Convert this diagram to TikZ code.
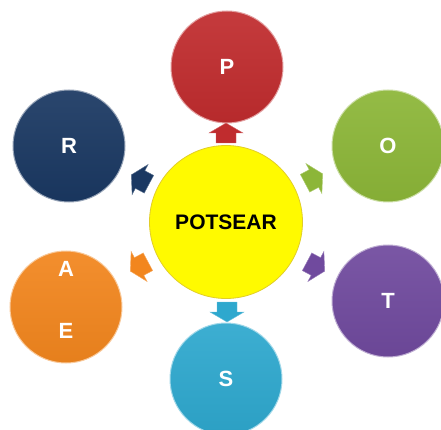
\documentclass[tikz,border=0pt]{standalone}
\usepackage{fontspec}
\setmainfont{Liberation Sans}
\usetikzlibrary{positioning}

\definecolor{hubYellow}{RGB}{255,250,0}
\definecolor{hubRim}{RGB}{225,205,40}
\definecolor{pRed}{RGB}{192,44,46}
\definecolor{oGreen}{RGB}{140,182,56}
\definecolor{tPurple}{RGB}{112,74,158}
\definecolor{sBlue}{RGB}{46,168,206}
\definecolor{aOrange}{RGB}{242,134,30}
\definecolor{rNavy}{RGB}{26,56,98}

\begin{document}
\begin{tikzpicture}[x=1pt,y=-1pt]

\tikzset{
  hub/.style={circle, minimum size=153pt, inner sep=0pt,
              fill=hubYellow, draw=hubRim, line width=0.8pt,
              font=\fontsize{21}{21}\selectfont\bfseries},
  bubble/.style={circle, minimum size=112pt, inner sep=0pt,
              top color=#1!93!white, bottom color=#1!95!black,
              draw=#1!45!white, line width=1pt, text=white,
              font=\fontsize{22}{22}\selectfont\bfseries},
  letter/.style={text=white, font=\fontsize{22}{22}\selectfont\bfseries},
  arrowbody/.style={fill=#1, draw=#1!70!white, line width=0.4pt}
}

\newcommand{\blockarrow}[4]{
  \begin{scope}[shift={(#1,#2)}, rotate=#3]
    \draw[arrowbody=#4] (-9,-10) -- (1,-10) -- (1,-17) -- (11,0)
                        -- (1,17) -- (1,10) -- (-9,10) -- cycle;
  \end{scope}
}

\useasboundingbox (0,0) rectangle (441,430);

% Centre
\node[hub] (hub) at (226,222) {POTSEAR};

% Outer circles
\node[bubble=pRed]    (p)  at (227,67)  {P};
\node[bubble=oGreen]  (o)  at (388,146) {O};
\node[bubble=tPurple] (t)  at (388,301) {T};
\node[bubble=sBlue]   (s)  at (226,379) {S};
\node[bubble=aOrange] (ae) at (66,307)  {};
\node[bubble=rNavy]   (r)  at (69,146)  {R};

\node[letter] (la) at (66,269) {A};
\node[letter] (le) at (66,331) {E};

% Arrows
\blockarrow{226}{134}{90}{pRed}
\blockarrow{313}{179}{28}{oGreen}
\blockarrow{315}{266}{-28}{tPurple}
\blockarrow{227}{311}{-90}{sBlue}
\blockarrow{140}{266}{-152}{aOrange}
\blockarrow{141}{180}{152}{rNavy}

\end{tikzpicture}
\end{document}
